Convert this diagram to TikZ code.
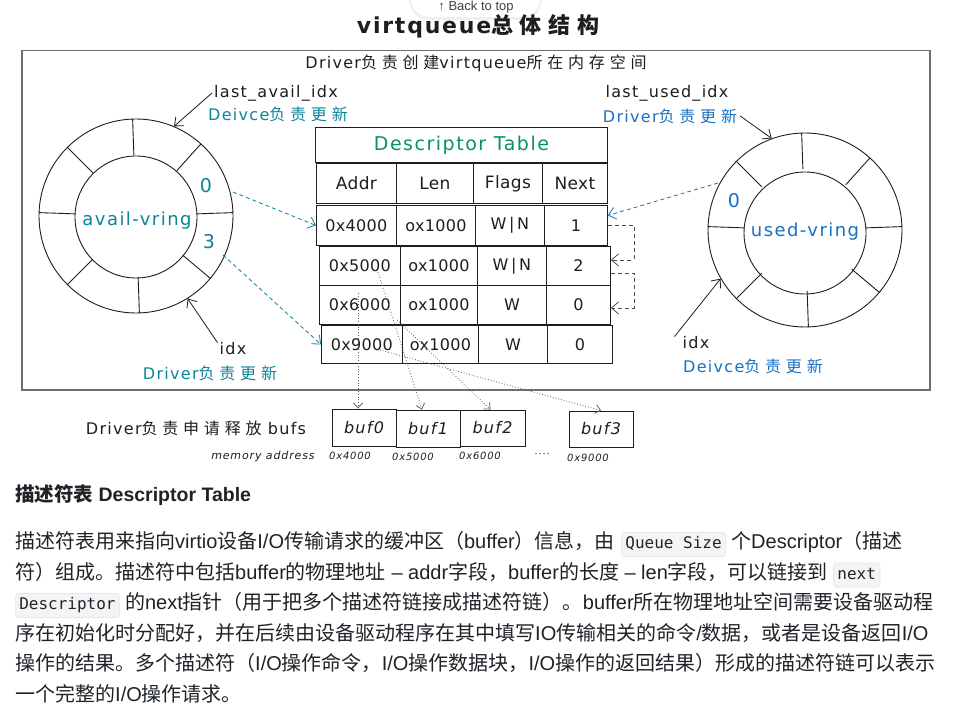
\documentclass[tikz,border=0pt]{standalone}
\usepackage{fontspec}
\setmainfont{Liberation Sans}
\setmonofont{DejaVu Sans Mono}
\newfontfamily\cjk{Noto Sans CJK SC}
\newfontfamily\hand[LetterSpace=8]{DejaVu Sans}
\newfontfamily\handt[LetterSpace=2]{DejaVu Sans}
\newfontfamily\handzh[LetterSpace=30]{Noto Sans CJK SC}
\usetikzlibrary{arrows.meta}
\definecolor{ink}{HTML}{1E1E1E}
\definecolor{tealc}{HTML}{0C8599}
\definecolor{bluec}{HTML}{1971C2}
\definecolor{greenc}{HTML}{099268}
\definecolor{framec}{HTML}{6E6E6E}
\definecolor{txt}{HTML}{1F2328}
\definecolor{codebg}{HTML}{F3F4F5}
\definecolor{codeline}{HTML}{E4E6E8}
\newcommand\zh[1]{{\cjk #1}}
\newcommand\hz[1]{{\handzh #1}}
\newcommand\tcell[6]{\node[cellst, minimum width=#4, minimum height=#5, anchor=north west] (#1) at (#2,#3) {#6};}
\begin{document}
\begin{tikzpicture}[x=1pt,y=-1pt,
  lbl/.style={inner sep=0pt, text=ink, font=\hand\fontsize{16}{16}\selectfont},
  cellst/.style={draw=ink, line width=0.9pt, inner sep=0pt, text=ink, font=\handt\fontsize{16}{16}\selectfont},
  ringst/.style={circle, draw=ink, line width=0.9pt, inner sep=0pt},
  ringline/.style={draw=ink, line width=0.9pt},
  arr/.style={-{Straight Barb[length=7pt,width=12pt]}},
  tealdash/.style={draw=tealc, line width=0.8pt, dash pattern=on 4pt off 3pt, arr},
  bluedash/.style={draw=bluec, line width=0.8pt, dash pattern=on 4pt off 3pt, arr},
  chainst/.style={draw=ink!80, line width=0.8pt, dash pattern=on 4pt off 3pt, arr},
  dotst/.style={draw=ink!70, line width=0.8pt, dotted, -{Straight Barb[length=5pt,width=9pt]}},
  bufst/.style={draw=ink, line width=0.9pt, inner sep=0pt, text=ink, font=\hand\itshape\fontsize{16}{16}\selectfont},
  small/.style={inner sep=0pt, text=ink, font=\hand\itshape\fontsize{10}{10}\selectfont},
  para/.style={anchor=base west, inner sep=0pt, text=txt, font=\fontsize{20}{24}\selectfont},
  code/.style={anchor=base west, inner xsep=4pt, inner ysep=4pt, fill=codebg, draw=codeline, line width=0.6pt, rounded corners=3pt, text=txt, font=\ttfamily\fontsize{16}{16}\selectfont, text height=12pt, text depth=4pt}
]
\useasboundingbox (0,0) rectangle (972,719);
\fill[white] (0,0) rectangle (972,719);

% back to top button
\node[fill=black!6, rounded corners=20pt, minimum width=133pt, minimum height=50pt, inner sep=0pt] (bttS) at (475.5,-5) {};
\node[fill=white, rounded corners=20pt, minimum width=130pt, minimum height=47pt, inner sep=0pt] (btt) at (475.5,-6.5) {};
\node[anchor=base, inner sep=0pt, text=black!75, font=\fontsize{13}{13}\selectfont] (bttT) at (476,11) {↑ Back to top};

% title
\node[inner sep=0pt, text=ink, font=\hand\bfseries\fontsize{22}{22}\selectfont] (title) at (478,26) {virtqueue\hz{总体结构}};

% frame
\node[draw=framec, line width=1.5pt, minimum width=908pt, minimum height=339pt, anchor=north west, inner sep=0pt] (frame) at (21,50) {};
\node[lbl] (drv) at (476,63) {Driver\hz{负责创建}virtqueue\hz{所在内存空间}};

% left ring
\node[ringst, minimum size=194pt] (ringL) at (136,216) {};
\node[ringst, minimum size=122pt] (inL) at (136,217) {};
\foreach \a in {-92,-48,-2,40,88,135,-178,-135}
  \draw[ringline, shift={(136,216)}] (\a:61) -- (\a:97);
\node[lbl, text=tealc, font=\hand\fontsize{18}{18}\selectfont] (avail) at (137,221) {avail-vring};
\node[lbl, text=tealc, font=\hand\fontsize{19}{19}\selectfont] (n0L) at (206,186) {0};
\node[lbl, text=tealc, font=\hand\fontsize{19}{19}\selectfont] (n3L) at (209,242) {3};
\node[lbl] (lai) at (276,93) {last\_avail\_idx};
\node[lbl, text=tealc] (laiD) at (278,114) {Deivce\hz{负责更新}};
\node[lbl] (idxL) at (233,349) {idx};
\node[lbl, text=tealc] (idxLD) at (210,373) {Driver\hz{负责更新}};
\draw[ink, line width=0.8pt, arr] ([xshift=-2pt]lai.west) -- (ringL.67);
\draw[ink, line width=0.8pt, arr] ([xshift=-2pt]idxL.north west) -- (ringL.-58);

% right ring
\node[ringst, minimum size=194pt] (ringR) at (805,230) {};
\node[ringst, minimum size=122pt] (inR) at (805,233) {};
\foreach \a in {-92,-48,-2,40,88,135,-178,-135}
  \draw[ringline, shift={(805,230)}] (\a:61) -- (\a:97);
\node[lbl, text=bluec, font=\hand\fontsize{18}{18}\selectfont] (used) at (805,232) {used-vring};
\node[lbl, text=bluec, font=\hand\fontsize{19}{19}\selectfont] (n0R) at (734,201) {0};
\node[lbl] (lui) at (667,93) {last\_used\_idx};
\node[lbl, text=bluec] (luiD) at (670,116) {Driver\hz{负责更新}};
\node[lbl] (idxR) at (696,343) {idx};
\node[lbl, text=bluec] (idxRD) at (753,366) {Deivce\hz{负责更新}};
\draw[ink, line width=0.8pt, arr] ([xshift=3pt]luiD.east) -- (ringR.110);
\draw[ink, line width=0.8pt, arr] ([xshift=-8pt]idxR.north west) -- (ringR.-150);

% descriptor table
\tcell{dt}{315}{127}{292pt}{35pt}{\hand\textcolor{greenc}{\fontsize{19}{19}\selectfont Descriptor Table}}
\tcell{hA}{316}{163}{80pt}{40pt}{\fontsize{17}{17}\selectfont Addr}
\tcell{hL}{396}{163}{77pt}{40pt}{\fontsize{17}{17}\selectfont Len}
\tcell{hF}{473}{163}{69pt}{40pt}{\fontsize{17}{17}\selectfont Flags}
\tcell{hN}{542}{163}{65pt}{40pt}{\fontsize{17}{17}\selectfont Next}
\tcell{r1a}{316}{205}{80pt}{40pt}{0x4000}
\tcell{r1l}{396}{205}{79pt}{40pt}{ox1000}
\tcell{r1f}{475}{205}{69pt}{40pt}{W\,|\,N}
\tcell{r1n}{544}{205}{63pt}{40pt}{1}
\tcell{r2a}{319}{246}{81pt}{39pt}{0x5000}
\tcell{r2l}{400}{246}{77pt}{39pt}{ox1000}
\tcell{r2f}{477}{246}{69pt}{39pt}{W\,|\,N}
\tcell{r2n}{546}{246}{64pt}{39pt}{2}
\tcell{r3a}{319}{285}{81pt}{39pt}{0x6000}
\tcell{r3l}{400}{285}{77pt}{39pt}{ox1000}
\tcell{r3f}{477}{285}{69pt}{39pt}{W}
\tcell{r3n}{546}{285}{64pt}{39pt}{0}
\tcell{r4a}{321}{325}{81pt}{38pt}{0x9000}
\tcell{r4l}{402}{325}{76pt}{38pt}{ox1000}
\tcell{r4f}{478}{325}{69pt}{38pt}{W}
\tcell{r4n}{547}{325}{65pt}{38pt}{0}

% ring -> table arrows
\coordinate (a0) at (233,192);
\coordinate (a3) at (223,255);
\coordinate (u0) at (718,183);
\draw[tealdash] (a0) -- (r1a.west);
\draw[tealdash] (a3) -- (r4a.west);
\draw[bluedash] (u0) -- ([yshift=10pt]r1n.east);

% next chain
\draw[chainst] (r1n.east) -- ++(26,0) |- ([yshift=6pt]r2n.east);
\draw[chainst] ([yshift=-7pt]r2n.east) -- ++(23,0) |- ([yshift=-3pt]r3n.east);

% buffers
\node[lbl, font=\hand\fontsize{16}{16}\selectfont] (drvbuf) at (196,428) {Driver\hz{负责申请释放} bufs};
\node[bufst, minimum width=64pt, minimum height=37pt] (buf0) at (364,427.5) {buf0};
\node[bufst, minimum width=64pt, minimum height=37pt] (buf1) at (428,428.5) {buf1};
\node[bufst, minimum width=65pt, minimum height=36pt] (buf2) at (492.5,428) {buf2};
\node[bufst, minimum width=64pt, minimum height=36pt] (buf3) at (601,429) {buf3};
\node[small, font=\hand\itshape\fontsize{11}{11}\selectfont] (mem) at (263,456) {memory address};
\node[small] (m0) at (350,456) {0x4000};
\node[small] (m1) at (413,457) {0x5000};
\node[small] (m2) at (480,456) {0x6000};
\node[small] (mdots) at (542,455) {····};
\node[small] (m3) at (588,458) {0x9000};

\coordinate (d0) at (358,293);
\coordinate (d1) at (378,272);
\coordinate (d2) at (397,320);
\coordinate (d3) at (380,350);
\draw[dotst] (d0) -- ([xshift=-6pt]buf0.north);
\draw[dotst] (d1) -- ([xshift=-6pt]buf1.north);
\draw[dotst] (d2) -- ([xshift=-2pt]buf2.north);
\draw[dotst] (d3) -- (buf3.north);

% text below
\node[para, font=\bfseries\fontsize{19.5}{24}\selectfont] (head) at (15,501.5) {\zh{描述符表} Descriptor Table};

\node[para] (p1a) at (15,548.5) {\zh{描述符表用来指向}virtio\zh{设备}I/O\zh{传输请求的缓冲区（}buffer\zh{）信息，由}};
\node[code] (q1) at ([xshift=6pt]p1a.base east) {Queue Size};
\node[para] (p1b) at ([xshift=5pt]q1.base east) {\zh{个}Descriptor\zh{（描述}};

\node[para] (p2a) at (15,579) {\zh{符）组成。描述符中包括}buffer\zh{的物理地址} – addr\zh{字段，}buffer\zh{的长度} – len\zh{字段，可以链接到}};
\node[code] (q2) at ([xshift=5pt]p2a.base east) {next};

\node[code] (q3) at (15,609.5) {Descriptor};
\node[para] (p3a) at ([xshift=5pt]q3.base east) {\zh{的}next\zh{指针（用于把多个描述符链接成描述符链）。}buffer\zh{所在物理地址空间需要设备驱动程}};

\node[para] (p4) at (15,640) {\zh{序在初始化时分配好，并在后续由设备驱动程序在其中填写}IO\zh{传输相关的命令}/\zh{数据，或者是设备返回}I/O};
\node[para] (p5) at (15,670.5) {\zh{操作的结果。多个描述符（}I/O\zh{操作命令，}I/O\zh{操作数据块，}I/O\zh{操作的返回结果）形成的描述符链可以表示}};
\node[para] (p6) at (15,701) {\zh{一个完整的}I/O\zh{操作请求。}};
\end{tikzpicture}
\end{document}
